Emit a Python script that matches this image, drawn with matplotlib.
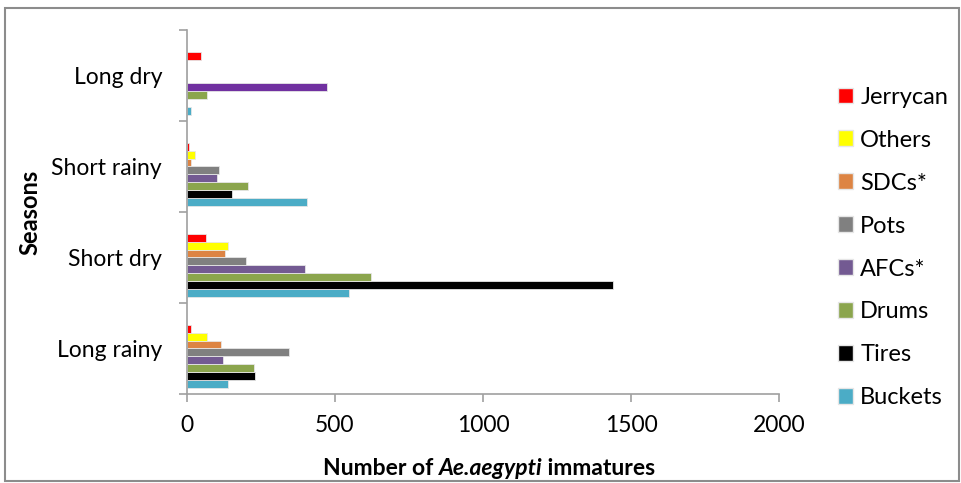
import matplotlib.pyplot as plt
from matplotlib.patches import Rectangle, Patch
import numpy as np

plt.rcParams['font.family'] = ['Lato', 'DejaVu Sans']

# seasons, bottom to top
seasons = ['Long rainy', 'Short dry', 'Short rainy', 'Long dry']

# container types, bottom bar to top bar inside each season group
containers = ['Buckets', 'Tires', 'Drums', 'AFCs*', 'Pots', 'SDCs*', 'Others', 'Jerrycan']
colors = ['#4BACC6', '#000000', '#8BA54D', '#735A92', '#808080', '#DD8443', '#FFFF00', '#FF0000']

buckets = [140, 546, 405, 15]
tires = [231, 1440, 153, 0]
drums = [227, 621, 206, 68]
afcs = [122, 397, 100, 472]
pots = [346, 199, 107, 0]
sdcs = [114, 128, 15, 0]
others = [68, 138, 26, 0]
jerrycan = [15, 64, 8, 47]
series = [buckets, tires, drums, afcs, pots, sdcs, others, jerrycan]

fig = plt.figure(figsize=(9.62, 4.83), dpi=100)
ax = fig.add_axes([0.1944, 0.1843, 0.6154, 0.7536])

y = np.arange(len(seasons))
step = 0.0864
for k, (vals, c) in enumerate(zip(series, colors)):
    cols = [c] * len(vals)
    if containers[k] == 'AFCs*':
        cols[3] = '#7030A0'
    ax.barh(y - 0.388 + k * step, vals, height=step, color=cols,
            edgecolor='#e6e6e6', linewidth=0.6)

ax.set_xlim(0, 2000)
ax.set_ylim(-0.5, 3.5)
ax.set_xticks([0, 500, 1000, 1500, 2000])
ax.set_yticks(y)
ax.set_yticklabels(seasons)
ax.set_yticks(np.arange(-0.5, 3.6, 1), minor=True)
ax.tick_params(axis='y', which='major', length=0, labelsize=16.5, pad=18)
ax.tick_params(axis='y', which='minor', length=6, color='#a0a0a0', width=1.2)
ax.tick_params(axis='x', length=6, color='#a0a0a0', width=1.2, labelsize=16.5, pad=9)

for s in ['top', 'right']:
    ax.spines[s].set_visible(False)
for s in ['left', 'bottom']:
    ax.spines[s].set_color('#a0a0a0')
    ax.spines[s].set_linewidth(1.2)

fig.text(0.031, 0.56, 'Seasons', rotation=90, ha='center', va='center',
         fontsize=17, fontweight='bold')

# x axis title: regular bold parts around an italic species name
parts = [('Number of ', 'normal'), ('Ae.aegypti', 'italic'), (' immatures', 'normal')]
fig.canvas.draw()
renderer = fig.canvas.get_renderer()
texts = []
for s, st in parts:
    t = fig.text(0, 0.03, s, fontsize=16.5, fontweight='bold', style=st, va='center')
    texts.append(t)
widths = [t.get_window_extent(renderer).width for t in texts]
x0 = 489 - sum(widths) / 2
for t, w in zip(texts, widths):
    t.set_x(x0 / 962)
    x0 += w

handles = [Patch(facecolor=c, edgecolor='#e6e6e6') for c in colors[::-1]]
fig.legend(handles, containers[::-1], loc='upper left',
           bbox_to_anchor=(0.871, 0.8205), frameon=False, fontsize=17,
           handlelength=0.65, handleheight=0.65, handletextpad=0.3,
           labelspacing=0.93, borderaxespad=0, borderpad=0)

fig.patches.append(Rectangle((0.005, 0.004), 0.992, 0.98, transform=fig.transFigure,
                             fill=False, edgecolor='#8c8c8c', linewidth=1.5))

fig.savefig('out.png', dpi=100)
